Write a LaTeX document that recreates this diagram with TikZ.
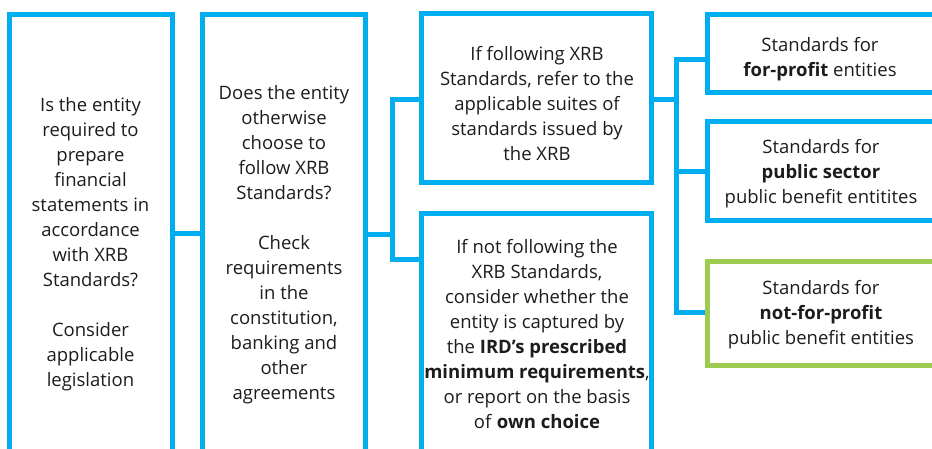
\documentclass[tikz,border=0pt]{standalone}
\usepackage{fontspec}
\setmainfont{Open Sans}
\definecolor{xblue}{RGB}{0,174,239}
\definecolor{xgreen}{RGB}{157,203,80}
\definecolor{xtext}{RGB}{30,27,28}
\tikzset{
  box/.style={draw=xblue, line width=5pt, rectangle, inner sep=0pt, outer sep=0pt},
  gbox/.style={box, draw=xgreen},
  conn/.style={draw=xblue, line width=5pt},
  txt/.style={align=center, inner sep=0pt, text=xtext, font=\fontsize{18.5}{25}\selectfont},
}
\begin{document}
\begin{tikzpicture}[x=1pt,y=-1pt]
\useasboundingbox (0,0) rectangle (932,449);
\clip (0,0) rectangle (932,449);
% box frames (open sides run past the picture edge)
\node[box, minimum width=163, minimum height=455.5] (b1) at (91,242.25) {};
\node[box, minimum width=162.5, minimum height=455.5] (b2) at (283.75,242.25) {};
\node[box, minimum width=230, minimum height=168.5] (b3) at (536.5,98.25) {};
\node[box, minimum width=230, minimum height=256.5] (b4) at (536.5,341.75) {};
\coordinate (j1) at (392.5,234.5);
\coordinate (j2) at (676.5,99.5);
% connectors
\draw[conn] ([yshift=8.75pt]b1.east) -- ([yshift=8.75pt]b2.west);
\draw[conn] ([yshift=7.75pt]b2.east) -- (j1);
\draw[conn] ([yshift=-1.25pt]b3.west) -| (j1) |- ([yshift=82.25pt]b4.west);
\node[box, minimum width=242.5, minimum height=78] (b5) at (828.75,53.5) {};
\node[box, minimum width=242.5, minimum height=98.5] (b6) at (828.75,171.25) {};
\draw[conn] ([yshift=-1.25pt]b3.east) -- (j2);
\draw[conn] ([yshift=-6pt]b5.west) -| (j2) |- (705.5,312.5) coordinate (j3);
\draw[conn] ([yshift=-0.75pt]b6.west) -- ([yshift=-0.75pt]b6.west -| j2);
\node[gbox, minimum width=242.5, minimum height=104] (b7) at (828.75,313.5) {};
% texts
\node[txt] (t1) at (90.5,244.5) {Is the entity\\required to\\prepare\\financial\\statements in\\accordance\\with XRB\\Standards?\\[25pt]Consider\\applicable\\legislation};
\node[txt] (t2) at (284,245) {Does the entity\\otherwise\\choose to\\follow XRB\\Standards?\\[25pt]Check\\requirements\\in the\\constitution,\\banking and\\other\\agreements};
\node[txt] (t3) at (537,104) {If following XRB\\Standards, refer to the\\applicable suites of\\standards issued by\\the XRB};
\node[txt] (t4) at (537,334.5) {If not following the\\XRB Standards,\\consider whether the\\entity is captured by\\the \textbf{IRD’s prescribed}\\\textbf{minimum requirements},\\or report on the basis\\of \textbf{own choice}};
\node[txt] (t5) at (820,59.5) {Standards for\\\textbf{for-profit} entities};
\node[txt] (t6) at (821,174) {Standards for\\\textbf{public sector}\\public benefit entitites};
\node[txt] (t7) at (821,315) {Standards for\\\textbf{not-for-profit}\\public benefit entities};
\end{tikzpicture}
\end{document}
